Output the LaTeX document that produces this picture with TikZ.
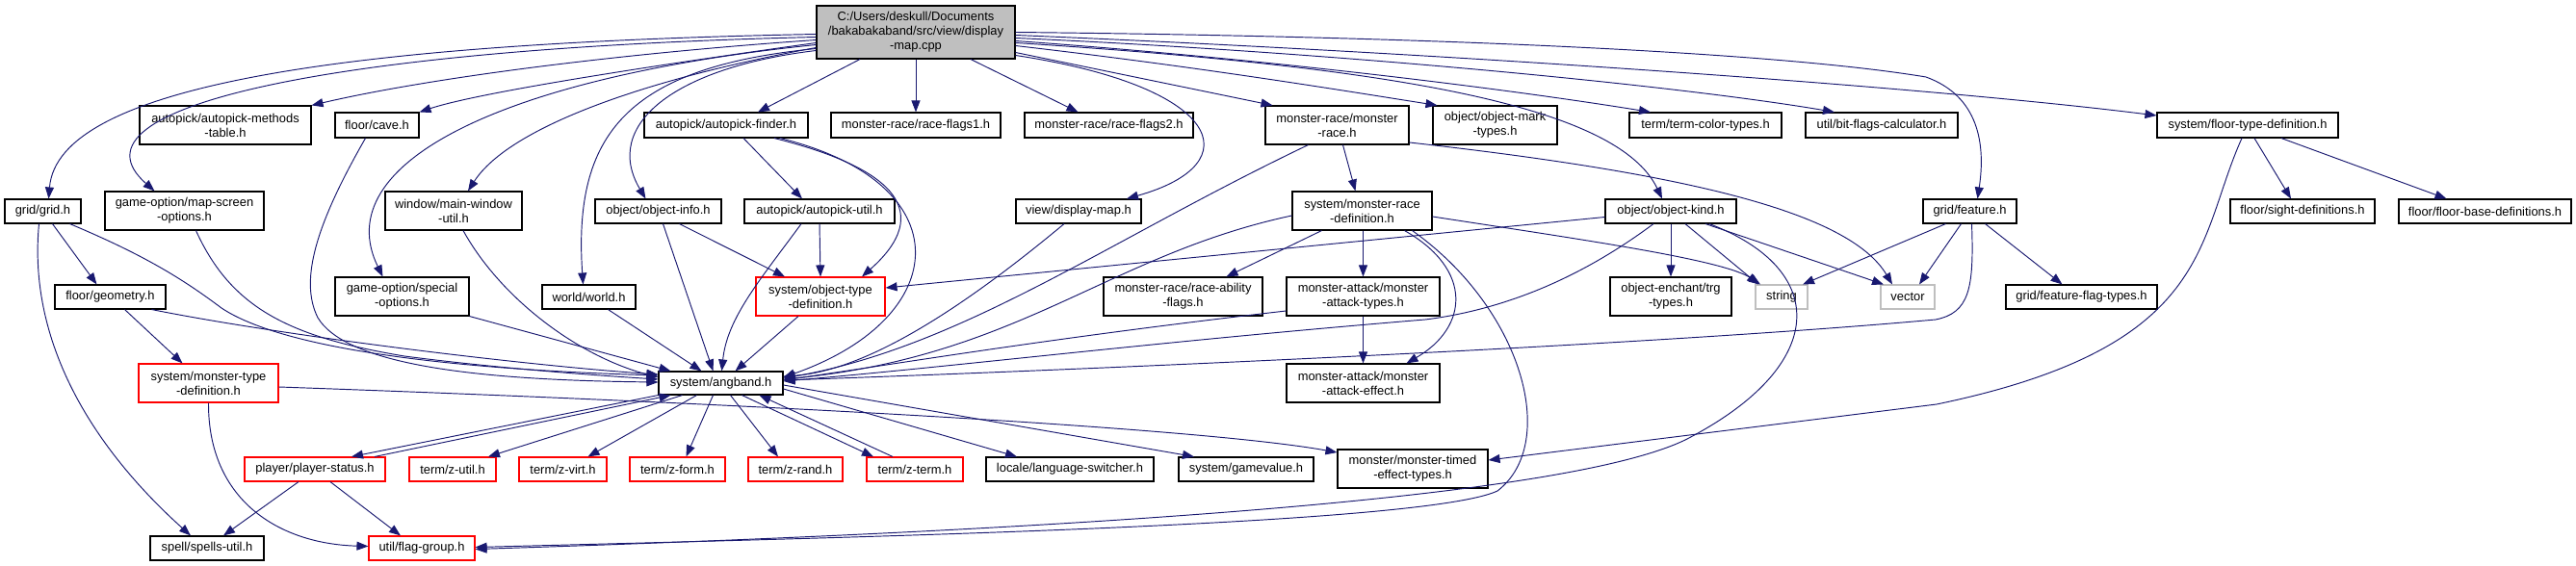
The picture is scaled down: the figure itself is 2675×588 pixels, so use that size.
\documentclass[tikz,border=0pt]{standalone}
\usepackage{fontspec}
\setmainfont{Liberation Sans}
\usetikzlibrary{arrows.meta}
\definecolor{edgeblue}{RGB}{25,25,112}
\definecolor{lgray}{RGB}{191,191,191}
\newcommand{\nodefont}{\fontsize{12.9}{15}\selectfont}
\newcommand{\dnode}[7]{\node[#6, minimum width={(#3-#2)*1pt}, minimum height={(#5-#4)*1pt}] (#1) at ({(#2+#3)/2},{(#4+#5)/2}) {#7};}
\tikzset{
  box/.style={draw=black, fill=white, line width=1.1pt, inner sep=0pt, align=center, font=\nodefont},
  redbox/.style={box, draw=red},
  graybox/.style={box, draw=lgray},
  rootbox/.style={box, fill=lgray},
  dep/.style={draw=edgeblue, line width=0.95pt, -{Triangle[length=12pt,width=9pt]}}
}
\begin{document}
\begin{tikzpicture}[x=1pt,y=-1pt]
\useasboundingbox (0,0) rectangle (2675,588);
% row 0
\dnode{root}{848}{1054}{6}{61}{rootbox}{C:/Users/deskull/Documents\\/bakabakaband/src/view/display\\-map.cpp}
% row 1
\dnode{amt}{145}{323}{110}{150}{box}{autopick/autopick-methods\\-table.h}
\dnode{cave}{348}{435}{117}{143}{box}{floor/cave.h}
\dnode{apf}{669}{839}{117}{143}{box}{autopick/autopick-finder.h}
\dnode{rf1}{863}{1039}{117}{143}{box}{monster-race/race-flags1.h}
\dnode{rf2}{1064}{1239}{117}{143}{box}{monster-race/race-flags2.h}
\dnode{mr}{1314}{1463}{110}{150}{box}{monster-race/monster\\-race.h}
\dnode{omt}{1488}{1617}{110}{150}{box}{object/object-mark\\-types.h}
\dnode{tct}{1692}{1850}{117}{143}{box}{term/term-color-types.h}
\dnode{bfc}{1875}{2033}{117}{143}{box}{util/bit-flags-calculator.h}
\dnode{ftd}{2240}{2428}{117}{143}{box}{system/floor-type-definition.h}
% row 2
\dnode{grid}{5}{84}{207}{232}{box}{grid/grid.h}
\dnode{mso}{109}{274}{199}{239}{box}{game-option/map-screen\\-options.h}
\dnode{mwu}{400}{542}{199}{239}{box}{window/main-window\\-util.h}
\dnode{oi}{618}{749}{207}{232}{box}{object/object-info.h}
\dnode{apu}{773}{929}{207}{232}{box}{autopick/autopick-util.h}
\dnode{vdm}{1055}{1185}{207}{232}{box}{view/display-map.h}
\dnode{mrd}{1342}{1487}{199}{239}{box}{system/monster-race\\-definition.h}
\dnode{ok}{1667}{1803}{207}{232}{box}{object/object-kind.h}
\dnode{feat}{1997}{2094}{207}{232}{box}{grid/feature.h}
\dnode{sight}{2316}{2466}{207}{232}{box}{floor/sight-definitions.h}
\dnode{fbd}{2491}{2670}{207}{232}{box}{floor/floor-base-definitions.h}
% row 3
\dnode{geo}{57}{172}{296}{321}{box}{floor/geometry.h}
\dnode{sopt}{348}{487}{288}{328}{box}{game-option/special\\-options.h}
\dnode{world}{563}{660}{296}{321}{box}{world/world.h}
\dnode{otd}{785}{919}{288}{328}{redbox}{system/object-type\\-definition.h}
\dnode{raf}{1146}{1311}{288}{328}{box}{monster-race/race-ability\\-flags.h}
\dnode{mat}{1336}{1495}{288}{328}{box}{monster-attack/monster\\-attack-types.h}
\dnode{trg}{1672}{1798}{288}{328}{box}{object-enchant/trg\\-types.h}
\dnode{nstring}{1823}{1877}{296}{321}{graybox}{string}
\dnode{nvector}{1953}{2009}{296}{321}{graybox}{vector}
\dnode{fft}{2083}{2240}{296}{321}{box}{grid/feature-flag-types.h}
% row 4
\dnode{mtd}{144}{289}{378}{418}{redbox}{system/monster-type\\-definition.h}
\dnode{ang}{684}{813}{386}{410}{box}{system/angband.h}
\dnode{mae}{1336}{1495}{378}{418}{box}{monster-attack/monster\\-attack-effect.h}
% row 5
\dnode{ps}{254}{400}{475}{500}{redbox}{player/player-status.h}
\dnode{zu}{425}{515}{475}{500}{redbox}{term/z-util.h}
\dnode{zv}{539}{630}{475}{500}{redbox}{term/z-virt.h}
\dnode{zf}{654}{753}{475}{500}{redbox}{term/z-form.h}
\dnode{zr}{777}{875}{475}{500}{redbox}{term/z-rand.h}
\dnode{zt}{900}{1000}{475}{500}{redbox}{term/z-term.h}
\dnode{ls}{1024}{1198}{475}{500}{box}{locale/language-switcher.h}
\dnode{gv}{1224}{1364}{475}{500}{box}{system/gamevalue.h}
\dnode{mte}{1389}{1545}{467}{507}{box}{monster/monster-timed\\-effect-types.h}
% row 6
\dnode{spu}{156}{274}{557}{582}{box}{spell/spells-util.h}
\dnode{fg}{383}{493}{557}{582}{redbox}{util/flag-group.h}

% ---- edges from root
\draw[dep] ([yshift=-2pt]root.west) .. controls (350,45) and (60,90) .. ([xshift=6pt]grid.north);
\draw[dep] ([yshift=-5pt]root.west) .. controls (350,50) and (60,110) .. ([xshift=-31pt]mso.north);
\draw[dep] ([yshift=-8pt]root.west) .. controls (650,55) and (450,80) .. (amt.north east);
\draw[dep] ([yshift=-11pt]root.west) .. controls (700,65) and (500,95) .. (cave.north east);
\draw[dep] ([yshift=-13pt]root.west) .. controls (520,80) and (340,170) .. ([xshift=-20pt]sopt.north);
\draw[dep] ([yshift=-16pt]root.west) .. controls (680,80) and (530,130) .. ([xshift=15pt]mwu.north);
\draw[dep] ([yshift=-17pt]root.west) .. controls (650,70) and (595,140) .. ([xshift=-6pt]world.north);
\draw[dep] ([yshift=-19pt]root.west) .. controls (700,70) and (625,130) .. ([xshift=-13pt]oi.north);
\draw[dep] ([xshift=-58pt]root.south) -- ([xshift=33pt]apf.north);
\draw[dep] (root.south) -- (rf1.north);
\draw[dep] ([xshift=57pt]root.south) -- ([xshift=-32pt]rf2.north);
\draw[dep] ([yshift=-24pt]root.east) .. controls (1270,90) and (1300,170) .. ([xshift=50pt]vdm.north);
\draw[dep] ([yshift=-21pt]root.east) -- ([xshift=-67pt]mr.north);
\draw[dep] ([yshift=-14pt]root.east) .. controls (1250,70) and (1400,95) .. ([xshift=-60pt]omt.north);
\draw[dep] ([yshift=-9pt]root.east) .. controls (1300,60) and (1550,90) .. ([xshift=-57pt]tct.north);
\draw[dep] ([yshift=-6pt]root.east) .. controls (1400,55) and (1750,90) .. ([xshift=-49pt]bfc.north);
\draw[dep] ([yshift=-3pt]root.east) .. controls (1500,55) and (2000,90) .. ([yshift=10pt]ftd.west);
\draw[dep] (root.east) .. controls (1500,38) and (1850,55) .. (2000,80) .. controls (2055,100) and (2062,150) .. ([xshift=8pt]feat.north);
\draw[dep] ([yshift=-11pt]root.east) .. controls (1450,70) and (1680,110) .. ([xshift=-9pt]ok.north);

% ---- autopick and object info
\draw[dep] ([xshift=18pt]apf.south) -- ([xshift=-18pt]apu.north);
\draw[dep] ([xshift=50pt]apf.south) .. controls (950,180) and (960,230) .. ([xshift=43pt]otd.north);
\draw[dep] ([xshift=56pt]apf.south) .. controls (1000,190) and (990,330) .. ([yshift=6pt]ang.east);
\draw[dep] ([xshift=22pt]oi.south) -- ([xshift=-37pt]otd.north);
\draw[dep] ([xshift=5pt]oi.south) -- ([xshift=-8pt]ang.north);
\draw[dep] (apu.south) -- (otd.north);
\draw[dep] ([xshift=-19pt]apu.south) .. controls (790,290) and (755,330) .. ([xshift=1pt]ang.north);
\draw[dep] ([xshift=-23pt]otd.south) -- ([xshift=15pt]ang.north);
\draw[dep] ([xshift=20pt]world.south) -- ([xshift=-20pt]ang.north);
\draw[dep] (sopt.south east) -- ([xshift=-52pt]ang.north);
\draw[dep] ([xshift=10pt]mwu.south) .. controls (520,310) and (600,370) .. ([yshift=6pt]ang.west);
\draw[dep] ([xshift=-12pt]cave.south) .. controls (330,230) and (310,290) .. (330,330) .. controls (360,380) and (500,395) .. ([yshift=1pt]ang.west);
\draw[dep] ([xshift=12pt]mso.south) .. controls (240,320) and (300,350) .. (420,370) .. controls (520,383) and (620,390) .. ([yshift=4pt]ang.west);
\draw[dep] ([xshift=28pt]grid.south) .. controls (150,265) and (190,290) .. (230,320) .. controls (290,360) and (450,383) .. ([yshift=8pt]ang.west);
\draw[dep] ([xshift=43pt]geo.south) .. controls (300,350) and (550,380) .. ([yshift=9pt]ang.west);
\draw[dep] ([xshift=10pt]grid.south) -- ([xshift=-14pt]geo.north);
\draw[dep] ([xshift=-4pt]grid.south) .. controls (30,340) and (80,450) .. ([xshift=-17pt]spu.north);
\draw[dep] ([xshift=15pt]geo.south) -- ([xshift=-27pt]mtd.north);
\draw[dep] ([yshift=-4pt]mtd.east) .. controls (800,420) and (1250,445) .. ([yshift=17pt]mte.west);
\draw[dep] (mtd.south) .. controls (216,520) and (290,565) .. ([yshift=2pt]fg.west);

% ---- angband outgoing
\draw[dep] (ang.south west) -- ([xshift=38pt]ps.north);
\draw[dep] ([xshift=62pt]ps.north) -- ([xshift=-52pt]ang.south);
\draw[dep] ([xshift=-40pt]ang.south) -- ([xshift=37pt]zu.north);
\draw[dep] ([xshift=-25pt]ang.south) -- ([xshift=26pt]zv.north);
\draw[dep] ([xshift=-8pt]ang.south) -- ([xshift=9pt]zf.north);
\draw[dep] ([xshift=10pt]ang.south) -- ([xshift=-18pt]zr.north);
\draw[dep] ([xshift=22pt]ang.south) -- ([xshift=-43pt]zt.north);
\draw[dep] ([xshift=-23pt]zt.north) -- ([xshift=40pt]ang.south);
\draw[dep] ([yshift=-6pt]ang.east) -- ([xshift=-55pt]ls.north);
\draw[dep] ([yshift=-2pt]ang.east) -- ([xshift=-54pt]gv.north);
\draw[dep] ([xshift=-17pt]ps.south) -- ([xshift=17pt]spu.north);
\draw[dep] ([xshift=16pt]ps.south) -- ([xshift=-22pt]fg.north);

% ---- monster race
\draw[dep] ([xshift=6pt]mr.south) -- ([xshift=-7pt]mrd.north);
\draw[dep] ([xshift=-30pt]mr.south) .. controls (1150,250) and (1000,360) .. ([yshift=5pt]ang.east);
\draw[dep] ([yshift=-18pt]mr.east) .. controls (1750,180) and (1920,220) .. ([xshift=-16pt]nvector.north);
\draw[dep] ([xshift=-42pt]mrd.south) -- ([xshift=45pt]raf.north);
\draw[dep] ([xshift=1pt]mrd.south) -- (mat.north);
\draw[dep] ([xshift=44pt]mrd.south) .. controls (1530,280) and (1525,340) .. ([xshift=45pt]mae.north);
\draw[dep] ([xshift=52pt]mrd.south) .. controls (1580,320) and (1620,460) .. (1555,510) .. controls (1480,545) and (900,558) .. ([yshift=1pt]fg.east);
\draw[dep] ([yshift=-6pt]mrd.east) .. controls (1650,250) and (1790,270) .. ([xshift=-22pt]nstring.north);
\draw[dep] ([yshift=-5pt]mrd.west) .. controls (1150,265) and (1060,370) .. ([yshift=4pt]ang.east);
\draw[dep] (mat.south) -- (mae.north);
\draw[dep] ([yshift=-15pt]mat.west) .. controls (1100,350) and (950,375) .. ([yshift=3pt]ang.east);
\draw[dep] ([xshift=-15pt]vdm.south) .. controls (1000,320) and (900,385) .. ([yshift=7pt]ang.east);

% ---- object kind
\draw[dep] ([yshift=-6pt]ok.west) -- ([yshift=9pt]otd.east);
\draw[dep] (ok.south) -- (trg.north);
\draw[dep] ([xshift=15pt]ok.south) -- ([xshift=-24pt]nstring.north);
\draw[dep] ([xshift=36pt]ok.south) -- ([xshift=-25pt]nvector.north);
\draw[dep] ([xshift=-18pt]ok.south) .. controls (1640,290) and (1560,322) .. (1480,332) .. controls (1200,355) and (1000,380) .. ([yshift=2pt]ang.east);
\draw[dep] ([xshift=40pt]ok.south) .. controls (1900,280) and (1900,380) .. (1750,457) .. controls (1650,505) and (1300,545) .. ([yshift=-1pt]fg.east);

% ---- feature
\draw[dep] ([xshift=-25pt]feat.south) -- ([xshift=22pt]nstring.north);
\draw[dep] ([xshift=-9pt]feat.south) -- ([xshift=12pt]nvector.north);
\draw[dep] ([xshift=16pt]feat.south) -- ([xshift=-20pt]fft.north);
\draw[dep] ([xshift=2pt]feat.south) .. controls (2050,300) and (2045,325) .. (2010,332) .. controls (1700,360) and (1100,385) .. ([yshift=3pt]ang.east);

% ---- floor type definition
\draw[dep] ([xshift=7pt]ftd.south) -- ([xshift=-12pt]sight.north);
\draw[dep] ([xshift=35pt]ftd.south) -- ([xshift=-40pt]fbd.north);
\draw[dep] ([xshift=-6pt]ftd.south) .. controls (2280,250) and (2300,360) .. (2011,420) -- ([yshift=9pt]mte.east);
\end{tikzpicture}
\end{document}
